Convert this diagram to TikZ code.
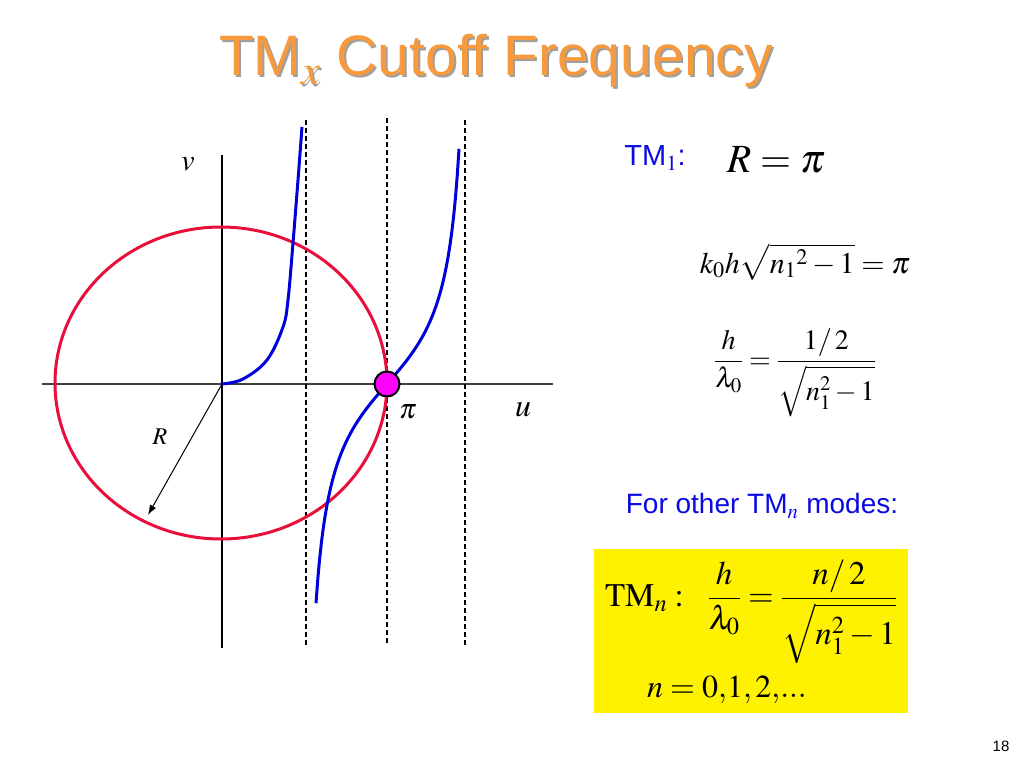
\documentclass[tikz,border=0pt]{standalone}
\usepackage{mathptmx}
\usepackage{fontspec}
\setmainfont{Liberation Serif}
\newfontfamily\arialfont{Liberation Sans}
\usetikzlibrary{arrows.meta}
\definecolor{titleorange}{RGB}{247,153,61}
\definecolor{textblue}{RGB}{10,10,225}
\definecolor{curveblue}{RGB}{0,0,220}
\definecolor{circlered}{RGB}{232,16,58}
\definecolor{dotmagenta}{RGB}{255,0,255}
\tikzset{x=1pt, y=-1pt}

\begin{document}
\begin{tikzpicture}[curve/.style={curveblue, line width=3pt},
  mathtext/.style={font=\fontsize{#1}{#1}\selectfont, inner sep=0pt}]
 \useasboundingbox (0,0) rectangle (1024,768);
 \fill[white] (0,0) rectangle (1024,768);
 % title with shadow
 \node[gray!75, font=\arialfont\fontsize{57}{60}\selectfont] (titleshadow) at (498,63) {TM$_x$ Cutoff Frequency};
 \node[titleorange, font=\arialfont\fontsize{57}{60}\selectfont] (title) at (496,61) {TM$_x$ Cutoff Frequency};
 % axes
 \draw[black!75, line width=1.8pt] (42,384) -- (553,384);
 \draw[line width=1.3pt] (222,155) -- (222,648);
 \foreach \x/\t in {306/120,387/118,465/120}{ % dashed asymptotes
 \draw[dash pattern=on 5pt off 3pt, line width=1.2pt] (\x,\t) -- (\x,645);}
 % circle of radius R
 \draw[circlered, line width=3pt] (221,383) ellipse [x radius=166, y radius=156];
 % tangent branches
 \draw[curve] plot[smooth, tension=0.6] coordinates {(222,384) (243,379) (267,360) (283,327) (288,300) (293,243) (298,180) (302,127)};
 \draw[curve] plot[domain=316:459, samples=80] (\x, {384-63*tan(deg((\x-387)/55))});
 \node[circle, draw, line width=2pt, fill=dotmagenta, minimum size=25pt, inner sep=0pt] (cutoff) at (387,384) {};
 % radius arrow
 \coordinate (origin) at (222,384);
 \coordinate (rtip) at (148,515);
 \draw[-{Latex[length=10pt,width=7pt]}, line width=1pt] (origin) -- (rtip);
 \node[mathtext=24] (rlabel) at (160,437) {$R$};
 \node[mathtext=30] (vlabel) at (188,164) {$v$};
 \node[mathtext=32] (ulabel) at (523,410) {$u$};
 \node[mathtext=28] (pilabel) at (408,412) {$\pi$};
 % right column
 \node[textblue, font=\arialfont\fontsize{29}{31}\selectfont] (tmone) at (655,158) {TM$_1$:};
 \node[mathtext=40] (rpi) at (776,160) {$R=\pi$};
 \node[mathtext=30] (keq) at (805,262) {$k_0h\sqrt{{n_1}^2-1}=\pi$};
 \node[mathtext=28] (ratio) at (795,373) {$\displaystyle\frac{h}{\lambda_0}=\frac{1/\,2}{\sqrt{n_1^2-1}}$};
 \node[textblue, font=\arialfont\fontsize{28}{30}\selectfont] (othermodes) at (762,506) {For other TM$_n$ modes:};
 \fill[yellow] (594,549) rectangle (908,713);
 \node[mathtext=33] (tmn) at (751,612) {$\mathrm{TM}_n:\ \ \displaystyle\frac{h}{\lambda_0}=\frac{n/\,2}{\sqrt{n_1^2-1}}$};
 \node[mathtext=32] (nvals) at (727,690) {$n=0{,}1{,}\,2{,}...$};
 \node[font=\arialfont\fontsize{15}{16}\selectfont] (pagenum) at (1001,746) {18};
\end{tikzpicture}
\end{document}
